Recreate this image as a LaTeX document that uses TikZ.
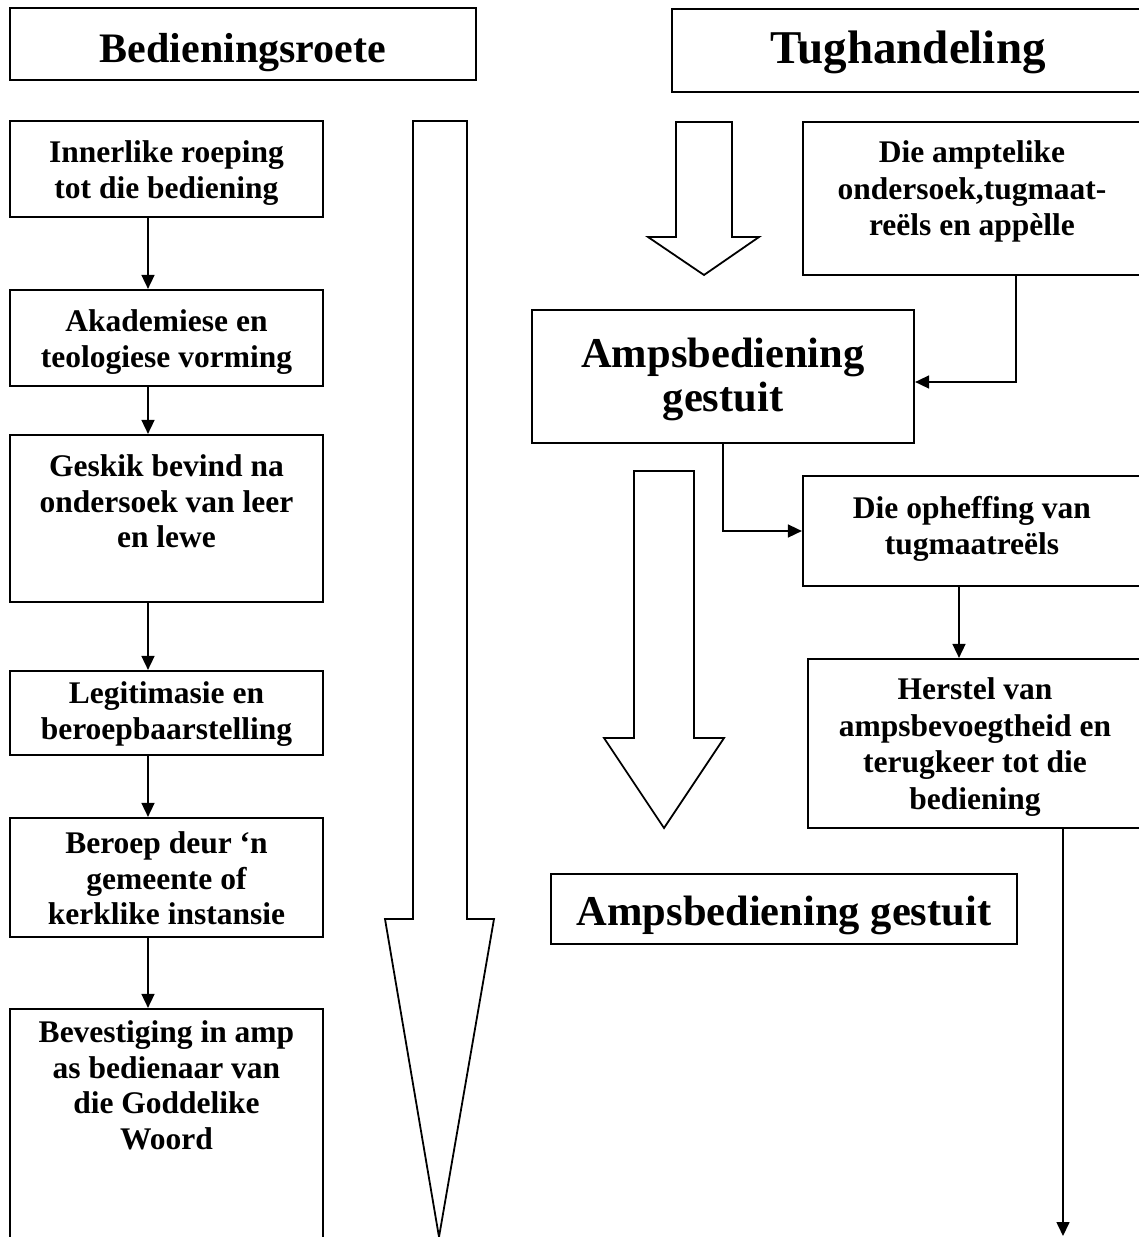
\documentclass[tikz,border=0pt]{standalone}
\usepackage{fontspec}
\setmainfont{Liberation Serif}
\usetikzlibrary{arrows.meta}
% box text: height, width, gap above first line, lines
\newcommand{\boxlines}[4]{\parbox[c][#1][t]{#2}{\centering\vspace*{#3}#4}}
\begin{document}
\begin{tikzpicture}[x=1pt,y=-1pt]
        \useasboundingbox (0,0) rectangle (1139,1237);
        % titles
        \begin{scope}[every node/.style={draw,line width=2.2pt,inner sep=0pt}]
            \node (bedien) [minimum width=466pt,minimum height=72pt,text height=36pt,text depth=0pt,
                font=\bfseries\fontsize{42}{48}\selectfont] at (243,44) {Bedieningsroete};
            \node (tug) [minimum width=472pt,minimum height=83pt,text height=34pt,text depth=8pt,
                font=\bfseries\fontsize{47}{54}\selectfont] at (908,50.5) {Tughandeling};
        \end{scope}
        % left column
        \begin{scope}[every node/.style={draw,line width=2.2pt,inner sep=0pt,
                font=\bfseries\fontsize{31.5}{35.5}\selectfont}]
            \node (roep)   at (166.5,169)    {\boxlines{96pt}{313pt}{20pt}{Innerlike roeping\\tot die bediening}};
            \node (vorm)   at (166.5,338)    {\boxlines{96pt}{313pt}{20pt}{Akademiese en\\teologiese vorming}};
            \node (geskik) at (166.5,518.5)  {\boxlines{167pt}{313pt}{20pt}{Geskik bevind na\\ondersoek van leer\\en lewe}};
            \node (legit)  at (166.5,713)    {\boxlines{84pt}{313pt}{11pt}{Legitimasie en\\beroepbaarstelling}};
            \node (beroep) at (166.5,877.5)  {\boxlines{119pt}{313pt}{14pt}{Beroep deur ‘n\\gemeente of\\kerklike instansie}};
            \node (bevest) at (166.5,1134.5) {\boxlines{251pt}{313pt}{12pt}{Bevestiging in amp\\as bedienaar van\\die Goddelike\\Woord}};
        \end{scope}
        % right column
        \begin{scope}[every node/.style={draw,line width=2.2pt,inner sep=0pt,
                font=\bfseries\fontsize{31.5}{36.5}\selectfont}]
            \node (onders)  at (972,198.5) {\boxlines{153pt}{338pt}{19pt}{Die amptelike\\ondersoek,tugmaat-\\reëls en appèlle}};
            \node (opheff)  at (972,531)   {\boxlines{110pt}{338pt}{20pt}{Die opheffing van\\tugmaatreëls}};
            \node (herstel) at (975,743.5) {\boxlines{169pt}{334pt}{19pt}{Herstel van\\ampsbevoegtheid en\\terugkeer tot die\\bediening}};
        \end{scope}
        \begin{scope}[every node/.style={draw,line width=2.2pt,inner sep=0pt,
                font=\bfseries\fontsize{42.5}{44}\selectfont}]
            \node (gestuitA) at (723,376.5) {\boxlines{133pt}{382pt}{28pt}{Ampsbediening\\gestuit}};
            \node (gestuitB) [minimum width=466pt,minimum height=70pt,text height=32pt,text depth=0pt] at (784,909) {Ampsbediening gestuit};
        \end{scope}
        % hollow arrows
        \begin{scope}[line width=1.8pt,line join=miter]
            \draw (413,121) -- (467,121) -- (467,919) -- (494,919) -- (439,1237) -- (385,919) -- (413,919) -- cycle;
            \draw (676,122) -- (732,122) -- (732,237) -- (759,237) -- (704,275) -- (648,237) -- (676,237) -- cycle;
            \draw (634,471) -- (694,471) -- (694,738) -- (724,738) -- (664,828) -- (604,738) -- (634,738) -- cycle;
        \end{scope}
        % connectors
        \coordinate (lane)  at (148,0);
        \coordinate (lane2) at (959,0);
        \coordinate (tap)   at (1016,382);
        \coordinate (einde) at (1063,1236);
        \begin{scope}[every edge/.style={draw,line width=1.6pt,-{Triangle[length=14pt,width=13pt]}}]
            \path
                (roep.south -| lane)   edge (vorm.north -| lane)
                (vorm.south -| lane)   edge (geskik.north -| lane)
                (geskik.south -| lane) edge (legit.north -| lane)
                (legit.south -| lane)  edge (beroep.north -| lane)
                (beroep.south -| lane) edge (bevest.north -| lane)
                (opheff.south -| lane2) edge (herstel.north -| lane2)
                (herstel.south -| einde) edge (einde);
        \end{scope}
        \begin{scope}[line width=1.6pt,-{Triangle[length=14pt,width=13pt]}]
            \draw (onders.south -| tap) |- (gestuitA.east |- tap);
            \draw (gestuitA.south) |- (opheff.west);
        \end{scope}
    \end{tikzpicture}
\end{document}
